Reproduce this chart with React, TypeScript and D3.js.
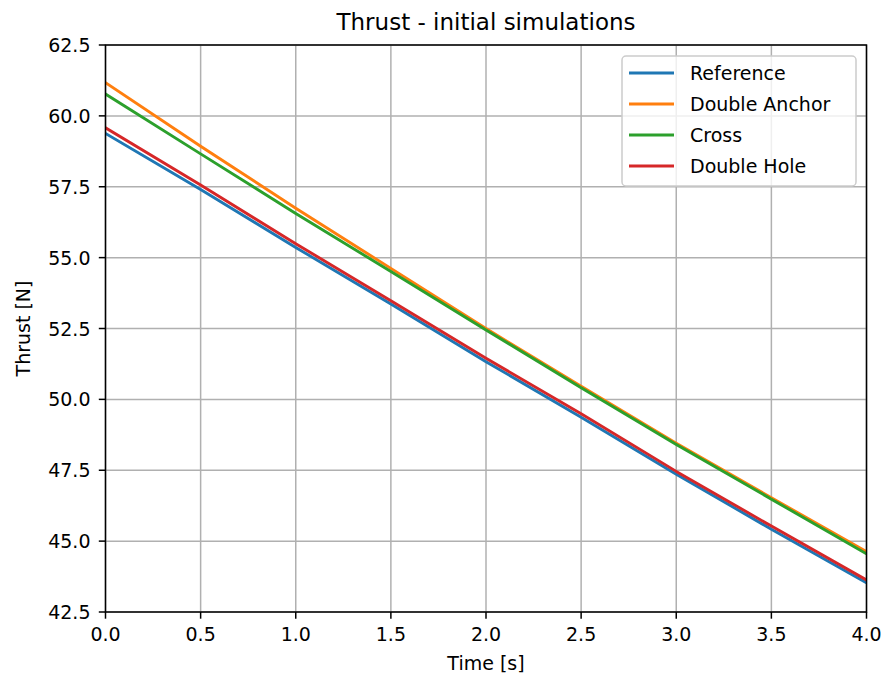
import React from "react";
import * as d3 from "d3";

// Time samples [s]
const times = [0, 0.5, 1, 1.5, 2, 2.5, 3, 3.5, 4];

// Thrust per configuration [N]
const referenceThrust = [59.38, 57.4, 55.36, 53.36, 51.33, 49.37, 47.36, 45.42, 43.53];
const doubleAnchorThrust = [61.17, 58.93, 56.74, 54.62, 52.5, 50.46, 48.45, 46.53, 44.63];
const crossThrust = [60.77, 58.66, 56.56, 54.51, 52.45, 50.41, 48.41, 46.48, 44.55];
const doubleHoleThrust = [59.58, 57.56, 55.49, 53.48, 51.45, 49.49, 47.46, 45.53, 43.63];

const seriesNames = ["Reference", "Double Anchor", "Cross", "Double Hole"];
const seriesColors = ["#1f77b4", "#ff7f0e", "#2ca02c", "#d62728"];

const xTicks = [0, 0.5, 1, 1.5, 2, 2.5, 3, 3.5, 4];
const yTicks = [42.5, 45, 47.5, 50, 52.5, 55, 57.5, 60, 62.5];

const W = 882;
const H = 677;
const margin = { left: 105.5, right: 15.5, top: 45, bottom: 65 };
const FONT = "DejaVu Sans, sans-serif";

export default function App() {
  const x = d3.scaleLinear().domain([0, 4]).range([margin.left, W - margin.right]);
  const y = d3.scaleLinear().domain([42.5, 62.5]).range([H - margin.bottom, margin.top]);

  const series = [referenceThrust, doubleAnchorThrust, crossThrust, doubleHoleThrust];
  const line = d3
    .line<number>()
    .x((_, i) => x(times[i]))
    .y((d) => y(d));

  const x0 = margin.left;
  const x1 = W - margin.right;
  const y0 = margin.top;
  const y1 = H - margin.bottom;

  const legendX = 622;
  const legendY = 56;
  const legendW = 234;
  const legendH = 130;

  return (
    <svg
      width={W}
      height={H}
      style={{ position: "absolute", left: 0, top: 0, background: "#fff" }}
      fontFamily={FONT}
    >
      <defs>
        <clipPath id="plot-clip">
          <rect x={x0} y={y0} width={x1 - x0} height={y1 - y0} />
        </clipPath>
      </defs>
      <rect x={0} y={0} width={W} height={H} fill="#fff" />

      {/* grid */}
      {xTicks.map((t) => (
        <line key={"gx" + t} x1={x(t)} x2={x(t)} y1={y0} y2={y1} stroke="#b0b0b0" strokeWidth={1.5} />
      ))}
      {yTicks.map((t) => (
        <line key={"gy" + t} x1={x0} x2={x1} y1={y(t)} y2={y(t)} stroke="#b0b0b0" strokeWidth={1.5} />
      ))}

      {/* data lines */}
      <g clipPath="url(#plot-clip)">
        {series.map((s, i) => (
          <path
            key={seriesNames[i]}
            d={line(s) || ""}
            fill="none"
            stroke={seriesColors[i]}
            strokeWidth={2.9}
            strokeLinecap="square"
            strokeLinejoin="round"
          />
        ))}
      </g>

      {/* frame */}
      <rect x={x0} y={y0} width={x1 - x0} height={y1 - y0} fill="none" stroke="#000" strokeWidth={1.5} />

      {/* x ticks */}
      {xTicks.map((t) => (
        <g key={"xt" + t}>
          <line x1={x(t)} x2={x(t)} y1={y1} y2={y1 + 6.7} stroke="#000" strokeWidth={1.5} />
          <text x={x(t)} y={y1 + 29} textAnchor="middle" fontSize={19} fill="#000">
            {t.toFixed(1)}
          </text>
        </g>
      ))}

      {/* y ticks */}
      {yTicks.map((t) => (
        <g key={"yt" + t}>
          <line x1={x0 - 6.7} x2={x0} y1={y(t)} y2={y(t)} stroke="#000" strokeWidth={1.5} />
          <text x={x0 - 15} y={y(t) + 7} textAnchor="end" fontSize={19} fill="#000">
            {t.toFixed(1)}
          </text>
        </g>
      ))}

      {/* labels */}
      <text x={(x0 + x1) / 2} y={670} textAnchor="middle" fontSize={19} fill="#000">
        Time [s]
      </text>
      <text
        transform={`translate(30, ${(y0 + y1) / 2}) rotate(-90)`}
        textAnchor="middle"
        fontSize={19}
        fill="#000"
      >
        Thrust [N]
      </text>
      <text x={(x0 + x1) / 2} y={30} textAnchor="middle" fontSize={23} fill="#000">
        Thrust - initial simulations
      </text>

      {/* legend */}
      <rect
        x={legendX}
        y={legendY}
        width={legendW}
        height={legendH}
        rx={4}
        fill="#fff"
        fillOpacity={0.8}
        stroke="#cccccc"
        strokeWidth={1.5}
      />
      {seriesNames.map((name, i) => {
        const cy = legendY + 17 + i * 31;
        return (
          <g key={"lg" + name}>
            <line x1={629} x2={674} y1={cy} y2={cy} stroke={seriesColors[i]} strokeWidth={2.9} />
            <text x={690} y={cy + 7} fontSize={19} fill="#000">
              {name}
            </text>
          </g>
        );
      })}
    </svg>
  );
}
